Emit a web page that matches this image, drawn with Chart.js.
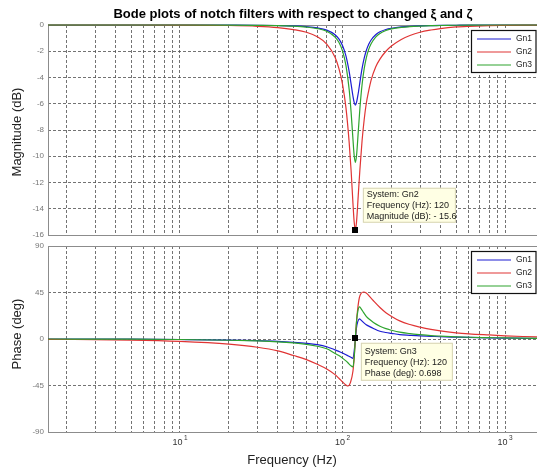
<!DOCTYPE html>
<html>
<head>
<meta charset="utf-8">
<title>Bode plots of notch filters</title>
<script src="https://cdn.jsdelivr.net/npm/chart.js@4.4.0/dist/chart.umd.min.js"></script>
<style>
  html, body { margin: 0; padding: 0; background: #fff; overflow: hidden; }
  #wrap { position: relative; width: 537px; height: 472px; overflow: hidden; }
  canvas { position: absolute; left: 0; }
  #magChart { top: 0; }
  #phaseChart { top: 240px; }
</style>
</head>
<body>
<div id="wrap">
  <canvas id="magChart" width="545" height="240"></canvas>
  <canvas id="phaseChart" width="545" height="232"></canvas>
</div>
<script>
const seriesNames = ['Gn1', 'Gn2', 'Gn3'];
const seriesColors = ['#1c1cd2', '#e03434', '#2ea42e'];

// magnitude (dB)
const magFreqHz = [1.5, 5, 10, 20, 30, 40, 50, 60, 70, 80,
    90, 95, 100, 105, 110, 113, 116, 118, 120, 122,
    125, 128, 132, 136, 140, 145, 150, 160, 170, 185,
    200, 230, 260, 300, 350, 400, 500, 600, 800, 1000,
    1300, 1700];
const magGn1 = [0, 0, 0, -0.01, -0.02, -0.04, -0.07, -0.13, -0.22, -0.39,
    -0.74, -1.06, -1.56, -2.35, -3.57, -4.51, -5.43, -5.9, -6.1, -5.9,
    -5.2, -4.35, -3.31, -2.53, -1.96, -1.47, -1.14, -0.74, -0.52, -0.34,
    -0.25, -0.15, -0.1, -0.07, -0.05, -0.035, -0.02, -0.01, -0.01, 0,
    0, 0];
const magGn2 = [0, 0, -0.01, -0.04, -0.1, -0.2, -0.35, -0.55, -0.9, -1.45,
    -2.45, -3.3, -4.5, -6.3, -9.0, -11.1, -13.6, -15.0, -15.6, -15.0,
    -13.0, -11.0, -8.8, -7.2, -6.0, -5.0, -4.2, -3.2, -2.6, -2.0,
    -1.6, -1.1, -0.8, -0.55, -0.38, -0.27, -0.15, -0.1, -0.05, -0.03,
    -0.01, 0];
const magGn3 = [0, 0, 0, -0.01, -0.03, -0.05, -0.09, -0.16, -0.27, -0.48,
    -0.92, -1.32, -1.97, -3.07, -4.95, -6.66, -8.72, -9.94, -10.46, -9.96,
    -8.16, -6.34, -4.53, -3.33, -2.52, -1.86, -1.43, -0.92, -0.64, -0.42,
    -0.3, -0.18, -0.12, -0.08, -0.05, -0.04, -0.02, -0.01, 0, 0,
    0, 0];

// phase (deg)
const phaseFreqHz = [1.5, 5, 10, 20, 30, 40, 50, 60, 70, 80,
    90, 95, 100, 105, 108, 112, 116, 118, 120, 122,
    124, 127, 130, 135, 140, 147, 155, 170, 185, 200,
    225, 260, 300, 350, 400, 500, 600, 800, 1000, 1300,
    1700];
const phaseGn1 = [0, -0.2, -0.5, -1, -1.6, -2.3, -3.2, -4.2, -5.5, -7.5,
    -10.5, -12, -13.5, -15.2, -16.2, -17.5, -18.7, -12, 0, 11,
    16.5, 19.5, 18.3, 15.8, 13.8, 12, 10.2, 7.5, 6.3, 5.5,
    4.3, 3.6, 3.0, 2.6, 2.2, 1.8, 1.5, 1.1, 0.9, 0.7,
    0.5];
const phaseGn2 = [-0.3, -1, -2.3, -5, -8, -11.5, -16, -20, -24.5, -29,
    -34.5, -38, -41.5, -44.5, -45.5, -42, -31, -18, 0, 17,
    29, 40, 44, 45.5, 44.5, 41, 37, 30.5, 25.5, 22,
    17.5, 14, 11.5, 9.3, 7.8, 6, 5, 3.9, 3.1, 2.4,
    1.8];
const phaseGn3 = [0, -0.2, -0.5, -1.2, -1.9, -2.7, -3.8, -5.2, -7, -9.5,
    -14, -16, -18.5, -21.2, -23, -25.5, -27, -18, 0.7, 17,
    26, 31, 29.5, 25.5, 22, 18.8, 16, 12.4, 10, 8.5,
    6.6, 5.2, 4.2, 3.3, 2.8, 2.1, 1.7, 1.3, 1.0, 0.8,
    0.6];

const magTicks = [0, -2, -4, -6, -8, -10, -12, -14, -16];
const phaseTicks = [90, 45, 0, -45, -90];
const decadeTicks = [10, 100, 1000];
const freqMin = 1.541;
const freqMax = 1642;

const magTip = { name: 'Gn2', freq: 120, value: -15.6 };
const phaseTip = { name: 'Gn3', freq: 120, value: 0.698 };

const FONT = '"Liberation Sans", Arial, sans-serif';
Chart.defaults.font.family = FONT;

// grid at 2..9 x 10^n plus the decades
const freqGrid = [];
[1, 10, 100, 1000].forEach(d => {
    for (let k = 1; k <= 9; k++) {
        const v = k * d;
        if (v > freqMin && v < freqMax) freqGrid.push(v);
    }
});

function toPoints(xs, ys) {
    return xs.map((x, i) => ({ x: x, y: ys[i] }));
}

const bodeDecor = {
    id: 'bodeDecor',
    beforeDatasetsDraw(chart) {
        const a = chart.chartArea, ctx = chart.ctx;
        ctx.save();
        ctx.strokeStyle = '#8c8c8c';
        ctx.lineWidth = 1;
        ctx.strokeRect(Math.round(a.left) + 0.5, Math.round(a.top) + 0.5,
            Math.round(a.right - a.left), Math.round(a.bottom - a.top));
        ctx.restore();
    },
    afterDraw(chart, args, o) {
        const ctx = chart.ctx, a = chart.chartArea;
        const xs = chart.scales.x, ys = chart.scales.y;

        // y axis title
        ctx.save();
        ctx.fillStyle = '#222';
        ctx.font = '13px ' + FONT;
        ctx.textAlign = 'center';
        ctx.textBaseline = 'middle';
        ctx.translate(17, o.yTitleY);
        ctx.rotate(-Math.PI / 2);
        ctx.fillText(o.yTitle, 0, 0);
        ctx.restore();

        if (o.title) {
            ctx.save();
            ctx.fillStyle = '#000';
            ctx.font = 'bold 13px ' + FONT;
            ctx.textAlign = 'center';
            ctx.textBaseline = 'middle';
            ctx.fillText(o.title, 293, 14);
            ctx.restore();
        }

        if (o.xLabels) {
            ctx.save();
            ctx.fillStyle = '#333';
            ctx.textBaseline = 'middle';
            decadeTicks.forEach(v => {
                const px = xs.getPixelForValue(v);
                ctx.font = '9px ' + FONT;
                ctx.textAlign = 'right';
                ctx.fillText('10', px + 2.5, a.bottom + 11);
                ctx.font = '6.5px ' + FONT;
                ctx.textAlign = 'left';
                ctx.fillText(String(Math.round(Math.log10(v))), px + 4, a.bottom + 6);
            });
            ctx.font = '13px ' + FONT;
            ctx.fillStyle = '#222';
            ctx.textAlign = 'center';
            ctx.fillText('Frequency (Hz)', 292, a.bottom + 28);
            ctx.restore();
        }

        // legend box
        ctx.save();
        const lx = a.right - 69, ly = a.top + o.legendDy;
        ctx.fillStyle = '#fff';
        ctx.fillRect(lx, ly, 80, 43);
        ctx.strokeStyle = '#111';
        ctx.lineWidth = 1.2;
        ctx.strokeRect(lx + 0.5, ly + 0.5, 64.5, 42);
        ctx.font = '8.5px ' + FONT;
        ctx.textBaseline = 'middle';
        ctx.textAlign = 'left';
        seriesNames.forEach((n, i) => {
            const yy = ly + 9 + i * 13;
            ctx.strokeStyle = seriesColors[i];
            ctx.lineWidth = 1.2;
            ctx.beginPath();
            ctx.moveTo(lx + 6, yy);
            ctx.lineTo(lx + 40, yy);
            ctx.stroke();
            ctx.fillStyle = '#222';
            ctx.fillText(n, lx + 45, yy);
        });
        ctx.restore();

        // data tip
        const t = o.tip;
        const px = xs.getPixelForValue(t.freq), py = ys.getPixelForValue(t.value);
        ctx.save();
        const bx = px + t.dx, by = py + t.dy;
        ctx.fillStyle = '#ffffe4';
        ctx.fillRect(bx, by, t.w, t.h);
        ctx.strokeStyle = '#d6d3b4';
        ctx.lineWidth = 1;
        ctx.strokeRect(bx + 0.5, by + 0.5, t.w - 1, t.h - 1);
        ctx.fillStyle = '#1a1a1a';
        ctx.font = '9px ' + FONT;
        ctx.textAlign = 'left';
        ctx.textBaseline = 'middle';
        t.lines.forEach((s, i) => ctx.fillText(s, bx + 4, by + t.first + i * 11));
        ctx.fillStyle = '#000';
        ctx.fillRect(Math.round(px) - 3, Math.round(py) - 3, 6, 6);
        ctx.restore();
    }
};

function makeChart(id, xsArr, series, yMin, yMax, tickVals, decor, pad) {
    const ctx = document.getElementById(id).getContext('2d');
    return new Chart(ctx, {
        type: 'line',
        data: {
            datasets: series.map((vals, i) => ({
                label: seriesNames[i],
                data: toPoints(xsArr, vals),
                borderColor: seriesColors[i],
                borderWidth: 1.2,
                pointRadius: 0,
                cubicInterpolationMode: 'monotone',
                fill: false,
                order: 3 - i,
                clip: { left: 0, top: 2, right: 6, bottom: 2 }
            }))
        },
        options: {
            responsive: false,
            animation: false,
            devicePixelRatio: 1,
            layout: { padding: pad },
            plugins: {
                legend: { display: false },
                tooltip: { enabled: false },
                bodeDecor: decor
            },
            scales: {
                x: {
                    type: 'logarithmic',
                    min: freqMin,
                    max: freqMax,
                    afterBuildTicks: s => { s.ticks = freqGrid.map(v => ({ value: v })); },
                    afterFit: s => {
                        s.height = 0;
                        s.paddingLeft = 0; s.paddingRight = 0;
                    },
                    ticks: { display: false },
                    grid: {
                        color: 'rgba(80,80,80,0.8)',
                        lineWidth: 1,
                        drawTicks: false
                    },
                    border: { display: false, dash: [3, 2] }
                },
                y: {
                    min: yMin,
                    max: yMax,
                    afterBuildTicks: s => { s.ticks = tickVals.map(v => ({ value: v })); },
                    afterFit: s => {
                        s.width = 48;
                        s.paddingTop = 0; s.paddingBottom = 0;
                    },
                    ticks: {
                        color: '#777',
                        padding: 4,
                        font: { size: 8 },
                        callback: v => String(v)
                    },
                    grid: {
                        color: 'rgba(80,80,80,0.8)',
                        lineWidth: 1,
                        drawTicks: false
                    },
                    border: { display: false, dash: [3, 2] }
                }
            }
        },
        plugins: [bodeDecor]
    });
}

makeChart('magChart', magFreqHz, [magGn1, magGn2, magGn3], -16, 0, magTicks, {
    yTitle: 'Magnitude (dB)',
    yTitleY: 132,
    title: 'Bode plots of notch filters with respect to changed \u03BE and \u03B6',
    legendDy: 5,
    tip: {
        freq: magTip.freq, value: magTip.value, dx: 7.5, dy: -42, w: 93, h: 35, first: 7,
        lines: ['System: ' + magTip.name, 'Frequency (Hz): ' + magTip.freq, 'Magnitude (dB): - ' + Math.abs(magTip.value)]
    }
}, { left: 0, right: 5, top: 25, bottom: 5 });

makeChart('phaseChart', phaseFreqHz, [phaseGn1, phaseGn2, phaseGn3], -90, 90, phaseTicks, {
    yTitle: 'Phase (deg)',
    yTitleY: 94,
    xLabels: true,
    legendDy: 5,
    tip: {
        freq: phaseTip.freq, value: phaseTip.value, dx: 5.5, dy: 4.5, w: 92, h: 38, first: 9,
        lines: ['System: ' + phaseTip.name, 'Frequency (Hz): ' + phaseTip.freq, 'Phase (deg): ' + phaseTip.value]
    }
}, { left: 0, right: 5, top: 6, bottom: 40 });
</script>
</body>
</html>
